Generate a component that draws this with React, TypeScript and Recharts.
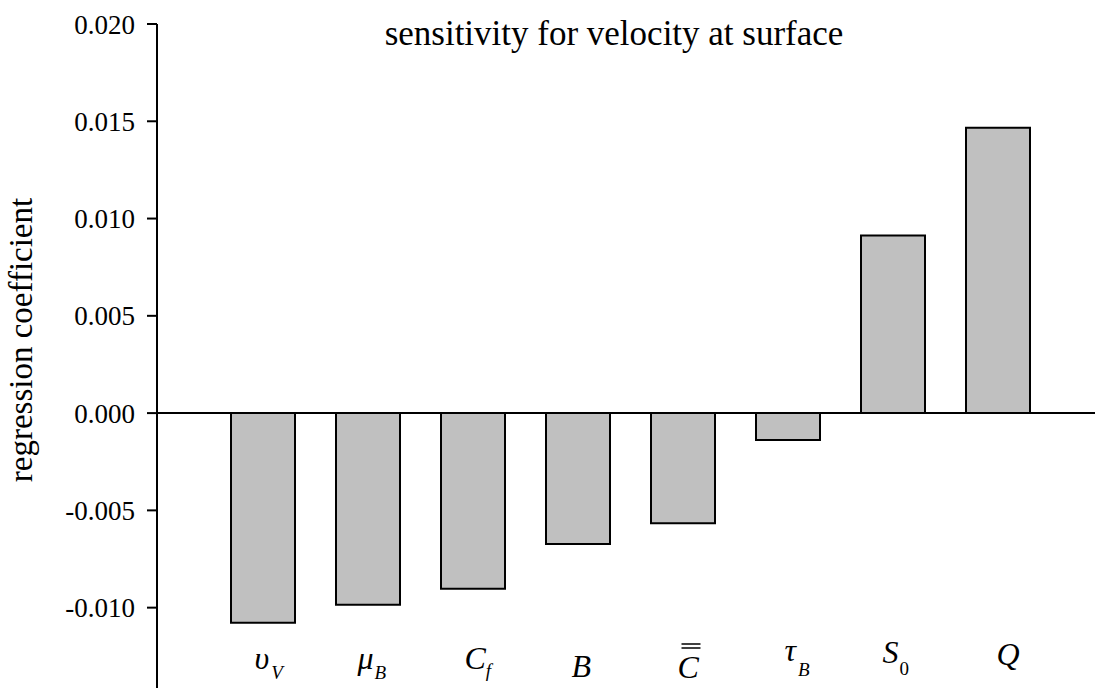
import React from 'react';
import { BarChart, Bar, XAxis, YAxis, ReferenceLine } from 'recharts';

// ─── Data ─────────────────────────────────────────────────────────────────────

const categories = ['vV', 'muB', 'Cf', 'B', 'Cbb', 'tauB', 'S0', 'Q'];
const coefficients = [-0.01078, -0.00985, -0.00903, -0.00673, -0.00566, -0.00138, 0.00913, 0.01467];
const yTicks = [-0.01, -0.005, 0, 0.005, 0.01, 0.015, 0.02];
const yDomain = [-0.01413, 0.02];

const chartData = categories.map((c, i) => ({ name: c, value: coefficients[i] }));

const SERIF = '"Liberation Serif", "Times New Roman", serif';

// ─── Math-style tick labels ───────────────────────────────────────────────────
// main glyph + optional subscript; offsets tuned against the reference

type Glyph = {
  main: string;
  sub?: string;
  start: number;
  base: number;
  subDy?: number;
  subDx?: number;
  subUpright?: boolean;
  bars?: boolean;
};

const GLYPHS: Record<string, Glyph> = {
  vV:   { main: 'υ', sub: 'V', start: -8,  base: -19, subDy: 10, subDx: 2 },
  muB:  { main: 'μ', sub: 'B', start: -10, base: -19, subDy: 10, subDx: 1 },
  Cf:   { main: 'C', sub: 'f', start: -8,  base: -19, subDy: 8,  subDx: 0 },
  B:    { main: 'B', start: -6,  base: -11 },
  Cbb:  { main: 'C', start: -5,  base: -10, bars: true },
  tauB: { main: 'τ', sub: 'B', start: -3,  base: -27, subDy: 15, subDx: 2 },
  S0:   { main: 'S', sub: '0', start: -10, base: -25, subDy: 12, subDx: 1, subUpright: true },
  Q:    { main: 'Q', start: -1,  base: -23 },
};

function MathTick(props: any) {
  const { x, y, payload } = props;
  const g = GLYPHS[payload.value];
  if (!g) return null;
  const tx = x + g.start;
  const ty = y + g.base;
  return (
    <g>
      <text x={tx} y={ty} fontFamily={SERIF} fontStyle="italic" fontSize={32} fill="#000">
        {g.main}
        {g.sub && (
          <tspan
            dx={g.subDx ?? 0}
            dy={g.subDy ?? 0}
            fontSize={19}
            fontStyle={g.subUpright ? 'normal' : 'italic'}
          >
            {g.sub}
          </tspan>
        )}
      </text>
      {g.bars && (
        <>
          <line x1={tx + 4} x2={tx + 23} y1={ty - 34} y2={ty - 34} stroke="#000" strokeWidth={1.5} />
          <line x1={tx + 4} x2={tx + 23} y1={ty - 30} y2={ty - 30} stroke="#000" strokeWidth={1.5} />
        </>
      )}
    </g>
  );
}

function YLabel(props: any) {
  const { viewBox } = props;
  const cx = 32;
  const cy = viewBox.y + viewBox.height / 2 - 16;
  return (
    <text
      x={cx}
      y={cy}
      transform={`rotate(-90, ${cx}, ${cy})`}
      textAnchor="middle"
      fontFamily={SERIF}
      fontSize={33}
      fill="#000"
    >
      regression coefficient
    </text>
  );
}

// ─── Chart ────────────────────────────────────────────────────────────────────

export default function App() {
  return (
    <div style={{ position: 'relative', width: 1095, height: 689, background: '#fff' }}>
      <style>{'body{margin:0}'}</style>
      <div
        style={{
          position: 'absolute',
          left: 614,
          top: 14,
          transform: 'translateX(-50%)',
          fontFamily: SERIF,
          fontSize: 35,
          whiteSpace: 'nowrap',
          color: '#000',
          lineHeight: '40px',
        }}
      >
        sensitivity for velocity at surface
      </div>
      <BarChart
        width={1095}
        height={689}
        data={chartData}
        margin={{ top: 24, right: 0, bottom: 0, left: 0 }}
      >
        <XAxis
          dataKey="name"
          axisLine={false}
          tickLine={false}
          tickSize={0}
          tickMargin={0}
          height={1}
          interval={0}
          padding={{ left: 53, right: 45 }}
          tick={<MathTick />}
        />
        <YAxis
          width={157}
          domain={yDomain}
          ticks={yTicks}
          allowDataOverflow
          interval={0}
          tickFormatter={(v: number) => v.toFixed(3)}
          stroke="#000"
          strokeWidth={2}
          tickSize={10}
          tickMargin={12}
          tick={{ fill: '#000', fontSize: 27, fontFamily: SERIF }}
          label={<YLabel />}
        />
        <ReferenceLine y={0} stroke="#000" strokeWidth={2} />
        <Bar
          dataKey="value"
          fill="#c0c0c0"
          stroke="#000"
          strokeWidth={2}
          barSize={64}
          isAnimationActive={false}
        />
      </BarChart>
    </div>
  );
}
